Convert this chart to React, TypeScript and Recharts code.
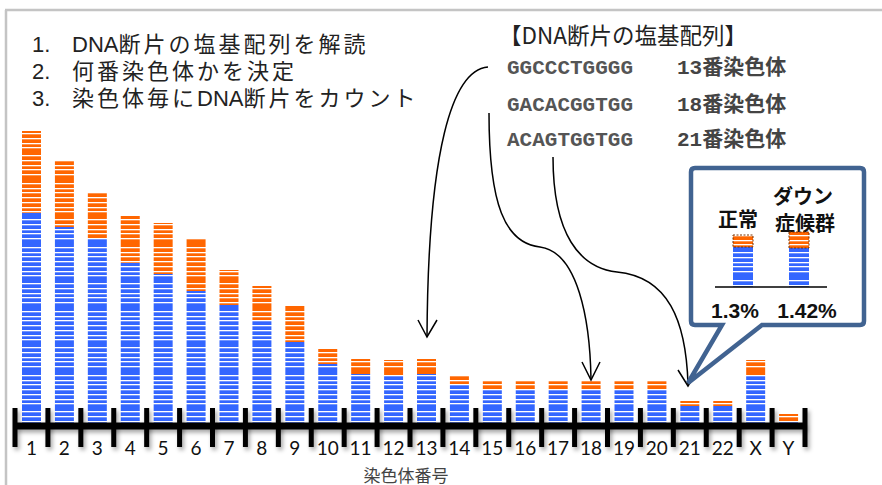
import { BarChart, Bar, XAxis, YAxis } from 'recharts';

// chromosome names and fragment counts
const chromosomes = ['1', '2', '3', '4', '5', '6', '7', '8', '9', '10', '11', '12', '13', '14', '15', '16', '17', '18', '19', '20', '21', '22', 'X', 'Y'];
const blueFragments = [210, 196, 184, 160, 149, 132, 118, 102, 81, 59, 49, 48, 49, 38, 33, 33, 33, 33, 33, 33, 17, 17, 48, 1];
const orangeFragments = [82, 67, 47, 47, 51, 53, 35, 35, 36, 15, 15, 15, 15, 9, 10, 10, 10, 10, 10, 10, 5, 5, 15, 8];

const steps = ['DNA断片の塩基配列を解読', '何番染色体かを決定', '染色体毎にDNA断片をカウント'];
const sequences = ['GGCCCTGGGG', 'GACACGGTGG', 'ACAGTGGTGG'];
const sequenceTargets = ['13番染色体', '18番染色体', '21番染色体'];

const insetGroups = ['正常', 'ダウン症候群'];
const insetBlue = [40, 39];
const insetOrange = [12, 16];
const insetShares = ['1.3%', '1.42%'];

const BLUE = '#3366ff';
const ORANGE = '#ff6600';
const stripeOffsets = [0, 5, 10, 15, 19, 27, 32, 37, 41, 46, 55, 60];

const chartData = chromosomes.map((name, i) => ({ name, blue: blueFragments[i], orange: orangeFragments[i] }));
const insetData = insetGroups.map((name, i) => ({ name, blue: insetBlue[i], orange: insetOrange[i] }));

function StripeDefs() {
  return (
    <defs>
      {[['blueStripes', BLUE], ['orangeStripes', ORANGE]].map(([id, color]) => (
        <pattern key={id} id={id} width={10} height={64} patternUnits="userSpaceOnUse">
          <rect width={10} height={64} fill={color} />
          {stripeOffsets.map((y) => (
            <rect key={y} y={y} width={10} height={1.3} fill="#fff" />
          ))}
        </pattern>
      ))}
      <filter id="axisShadow" filterUnits="userSpaceOnUse" x={0} y={0} width={882} height={485}>
        <feDropShadow dx={2} dy={3} stdDeviation={2} floodColor="#000" floodOpacity={0.35} />
      </filter>
    </defs>
  );
}

// label in the middle of each band, tick marks on the band edges crossing the axis line
const ChromosomeTick = ({ x, y, payload, index, visibleTicksCount }: any) => {
  const half = payload.offset;
  const edges = [x - half];
  if (index === visibleTicksCount - 1) edges.push(x + half);
  return (
    <g>
      {edges.map((ex) => (
        <line key={ex} x1={ex} x2={ex} y1={y - 15} y2={y + 24} stroke="#000" strokeWidth={5} filter="url(#axisShadow)" />
      ))}
      <text x={x} y={y + 19} dy="0.71em" textAnchor="middle" fill="#111" fontSize={19} fontFamily="Lato, sans-serif">
        {payload.value}
      </text>
    </g>
  );
};

// a little extra spacing for the kana/kanji only, latin stays tight
const spaced = (s: string) =>
  s.split(/([A-Za-z]+)/).filter(Boolean).map((part, i) => (
    <span key={i} style={{ letterSpacing: /[A-Za-z]/.test(part) ? 0 : '3px' }}>{part}</span>
  ));

export default function App() {
  return (
    <div style={{ position: 'absolute', left: 0, top: 0, width: 882, height: 485, background: '#fff', overflow: 'hidden' }}>
      <div style={{ position: 'absolute', left: 0, top: 0 }}>
        <BarChart width={882} height={485} data={chartData} margin={{ top: 123, right: 77, bottom: 61, left: 15 }}>
          <StripeDefs />
          <XAxis
            dataKey="name"
            interval={0}
            height={1}
            tickSize={0}
            tickMargin={0}
            tickLine={false}
            tick={<ChromosomeTick />}
            axisLine={{ stroke: '#000', strokeWidth: 7, transform: 'translate(0,3)', filter: 'url(#axisShadow)' }}
          />
          <YAxis hide domain={[0, 300]} />
          <Bar dataKey="blue" stackId="a" fill="url(#blueStripes)" barSize={19} isAnimationActive={false} />
          <Bar dataKey="orange" stackId="a" fill="url(#orangeStripes)" barSize={19} isAnimationActive={false} />
        </BarChart>
      </div>

      {/* numbered steps */}
      <div
        style={{
          position: 'absolute',
          left: 32,
          top: 31,
          fontFamily: "'Liberation Sans Narrow', 'Liberation Sans', 'Noto Sans CJK JP', sans-serif",
          fontSize: 22,
          lineHeight: '27px',
          color: '#222',
          whiteSpace: 'nowrap',
        }}
      >
        {steps.map((s, i) => (
          <div key={s} style={{ height: 27 }}>
            <span style={{ display: 'inline-block', width: 40 }}>{`${i + 1}.`}</span>
            {spaced(s)}
          </div>
        ))}
      </div>

      <svg width={882} height={485} style={{ position: 'absolute', left: 0, top: 0, pointerEvents: 'none' }}>
        {/* slide frame */}
        <line x1={5} y1={10} x2={882} y2={10} stroke="#c4c4c4" strokeWidth={2.5} />
        <line x1={6} y1={10} x2={6} y2={485} stroke="#c4c4c4" strokeWidth={2.5} />

        <text x={499} y={34} dominantBaseline="central" fontFamily="'Noto Sans CJK JP', sans-serif" fontSize={22.5} fill="#222">
          【DNA断片の塩基配列】
        </text>
        <text fontFamily="'Liberation Mono', 'Noto Sans CJK JP', monospace" fontWeight="bold" fontSize={21} dominantBaseline="central">
          {sequences.map((s, i) => (
            <tspan key={s}>
              <tspan x={507} y={[68, 105, 140][i]} fill="#555">{s}</tspan>
              <tspan x={677} y={[68, 105, 140][i]} fill="#444">{sequenceTargets[i]}</tspan>
            </tspan>
          ))}
        </text>

        {/* arrows from the sequences to their chromosomes */}
        <g fill="none" stroke="#000" strokeWidth={1.5}>
          <path d="M 488 67 C 452 70, 428 150, 427 337" />
          <path d="M 418 320 L 427 337 L 437 320" />
          <path d="M 489 113 C 489 205, 505 243, 540 247 C 578 252, 590 320, 591 379" />
          <path d="M 582 362 L 591 380 L 600 362" />
          <path d="M 553 157 C 553 235, 580 268, 617 272 C 668 277, 686 320, 688 384" />
          <path d="M 678 370 L 688 386 L 698 370" />
        </g>

        {/* callout */}
        <path
          d="M 695 168 H 860 Q 864 168 864 172 V 321 Q 864 325 860 325 H 762 L 688 383 L 722 325 H 695 Q 691 325 691 321 V 172 Q 691 168 695 168 Z"
          fill="#fff"
          stroke="#416391"
          strokeWidth={4.5}
        />
        <g fontFamily="'Noto Sans CJK JP', sans-serif" fontWeight="bold" fontSize={20} fill="#111" textAnchor="middle">
          <text x={738} y={218} dominantBaseline="central">{insetGroups[0]}</text>
          <text x={803} y={195} dominantBaseline="central">{insetGroups[1].slice(0, 3)}</text>
          <text x={805} y={222} dominantBaseline="central">{insetGroups[1].slice(3)}</text>
        </g>
        <g fontFamily="'Liberation Sans', Arial, sans-serif" fontWeight="bold" fontSize={21} fill="#111" textAnchor="middle">
          <text x={735} y={310} dominantBaseline="central">{insetShares[0]}</text>
          <text x={807} y={310} dominantBaseline="central">{insetShares[1]}</text>
        </g>

        <text x={406} y={474} textAnchor="middle" dominantBaseline="central" fontFamily="'Noto Sans CJK JP', sans-serif" fontSize={17} fill="#444">
          染色体番号
        </text>
      </svg>

      <div style={{ position: 'absolute', left: 715, top: 225 }}>
        <BarChart width={112} height={63} data={insetData} margin={{ top: 0, right: 0, bottom: 0, left: 0 }}>
          <XAxis dataKey="name" height={1} tick={false} tickLine={false} axisLine={{ stroke: '#000', strokeWidth: 1.5 }} />
          <YAxis hide domain={[0, 62]} />
          <Bar dataKey="blue" stackId="a" fill="url(#blueStripes)" barSize={20} isAnimationActive={false} />
          <Bar
            dataKey="orange"
            stackId="a"
            fill="url(#orangeStripes)"
            stroke="#7a3300"
            strokeWidth={1}
            strokeDasharray="2 1.5"
            barSize={20}
            isAnimationActive={false}
          />
        </BarChart>
      </div>
    </div>
  );
}
